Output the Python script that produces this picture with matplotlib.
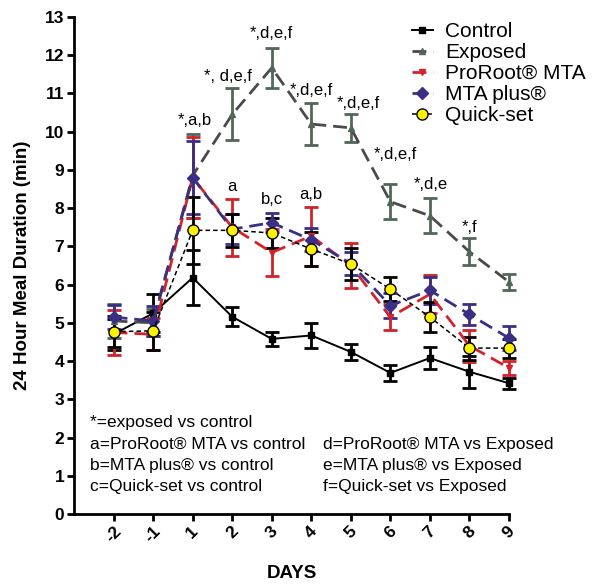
import numpy as np
import matplotlib.pyplot as plt

plt.rcParams['font.family'] = ['Liberation Sans', 'DejaVu Sans']

# ---------------- data ----------------
days = ['-2', '-1', '1', '2', '3', '4', '5', '6', '7', '8', '9']

control = [4.70, 5.25, 6.18, 5.16, 4.58, 4.67, 4.24, 3.69, 4.08, 3.72, 3.42]
control_err = [0.40, 0.50, 0.72, 0.25, 0.18, 0.32, 0.20, 0.20, 0.30, 0.42, 0.15]

exposed = [5.05, 5.00, 8.85, 10.45, 11.67, 10.20, 10.10, 8.17, 7.80, 6.86, 6.07]
exposed_err = [0.45, 0.35, 1.10, 0.68, 0.53, 0.55, 0.37, 0.45, 0.46, 0.35, 0.22]

proroot = [4.75, 4.70, 8.80, 7.50, 6.84, 7.27, 6.50, 5.15, 5.75, 4.40, 3.82]
proroot_err = [0.58, 0.42, 1.05, 0.75, 0.62, 0.77, 0.60, 0.35, 0.50, 0.42, 0.18]

mta_plus = [5.15, 5.05, 8.80, 7.45, 7.62, 7.17, 6.55, 5.45, 5.85, 5.22, 4.60]
mta_plus_err = [0.32, 0.40, 0.95, 0.40, 0.25, 0.30, 0.30, 0.33, 0.35, 0.27, 0.32]

quick = [4.77, 4.79, 7.42, 7.42, 7.35, 6.93, 6.54, 5.88, 5.15, 4.34, 4.34]
quick_err = [0.40, 0.50, 0.88, 0.43, 0.40, 0.45, 0.43, 0.32, 0.40, 0.30, 0.25]

# significance labels: (day, text)
sig_days = ['1', '2', '3', '4', '5', '6', '7', '8', '2', '3', '4']
sig_text = ['*,a,b', '*, d,e,f', '*,d,e,f', '*,d,e,f', '*,d,e,f', '*,d,e,f',
            '*,d,e', '*,f', 'a', 'b,c', 'a,b']
sig_y = [10.3, 11.45, 12.57, 11.07, 10.75, 9.4, 8.61, 7.5, 8.56, 8.22, 8.35]
sig_dx = [0.05, -0.1, 0.0, 0.0, 0.18, 0.12, 0.03, 0.0, 0.0, 0.0, 0.0]

notes_left = ['*=exposed vs control', 'a=ProRoot® MTA vs control',
              'b=MTA plus® vs control', 'c=Quick-set vs control']
notes_right = ['d=ProRoot® MTA vs Exposed', 'e=MTA plus® vs Exposed',
               'f=Quick-set vs Exposed']

# -------------------------------------------------

x = np.arange(1, len(days) + 1)

fig = plt.figure(figsize=(6, 5.88), dpi=100)
ax = fig.add_axes([74 / 600, 1 - 514 / 588, (509 - 74) / 600, (514 - 17) / 588])

series = [
    ('Control', control, control_err, '-', 's', 'black', 'black', 'black', 1.4, 4.5),
    ('Exposed', exposed, exposed_err, '--', '^', '#4a4a4a', '#50675a', '#50675a', 2.0, 4.5),
    ('ProRoot® MTA', proroot, proroot_err, '--', 'v', '#d2232a', '#d2232a', '#d2232a', 2.0, 4.5),
    ('MTA plus®', mta_plus, mta_plus_err, '--', 'D', '#3b2f85', '#3b2f85', '#3b2f85', 2.0, 6),
    ('Quick-set', quick, quick_err, '--', 'o', 'black', 'black', '#fff200', 1.1, 8),
]

handles = []
for name, vals, err, ls, mk, lc, ec, fc, lw, ms in series:
    ax.errorbar(x, vals, yerr=err, fmt='none', ecolor=ec, elinewidth=2.0,
                capsize=5, capthick=2.0, clip_on=False, zorder=2)
    if ls == '-':
        dash = (None, None)
    elif lw > 1.5:
        dash = (5, 2.5)
    else:
        dash = (3, 2)
    h, = ax.plot(x, vals, linestyle=ls, color=lc, linewidth=lw, marker=mk,
                 markersize=ms, markerfacecolor=fc,
                 markeredgecolor='black' if mk == 'o' else fc,
                 markeredgewidth=1.0, clip_on=False, zorder=3, label=name,
                 dashes=dash)
    handles.append(h)

for d, t, yy, dx in zip(sig_days, sig_text, sig_y, sig_dx):
    ax.text(x[days.index(d)] + dx, yy, t, ha='center', va='center', fontsize=12)

for i, t in enumerate(notes_left):
    fig.text(90 / 600, 1 - (423 + 21.3 * i) / 588, t, ha='left', va='center', fontsize=12.5)
for i, t in enumerate(notes_right):
    fig.text(323 / 600, 1 - (444 + 21.3 * i) / 588, t, ha='left', va='center', fontsize=12.5)

ax.set_xlim(0, 11)
ax.set_ylim(0, 13)
ax.set_yticks(range(0, 14))
ax.set_xticks(x)
ax.set_xticklabels(days, rotation=45, ha='center')
for lbl in ax.get_xticklabels() + ax.get_yticklabels():
    lbl.set_fontweight('bold')
    lbl.set_fontsize(12.5)

for s in ['top', 'right']:
    ax.spines[s].set_visible(False)
for s in ['left', 'bottom']:
    ax.spines[s].set_linewidth(2.0)
ax.tick_params(width=2.0, length=5, direction='out', pad=2)

ax.set_ylabel('24 Hour Meal Duration (min)', fontsize=13.5, fontweight='bold', labelpad=10)
ax.set_xlabel('DAYS', fontsize=13.5, fontweight='bold', labelpad=14)

fig.legend(handles=handles, loc='upper left', bbox_to_anchor=(412 / 600, 1 - 22 / 588),
           frameon=False, fontsize=15, handlelength=1.0, handletextpad=0.6,
           labelspacing=0.1, borderpad=0, borderaxespad=0)

fig.savefig('out.png', dpi=100)
